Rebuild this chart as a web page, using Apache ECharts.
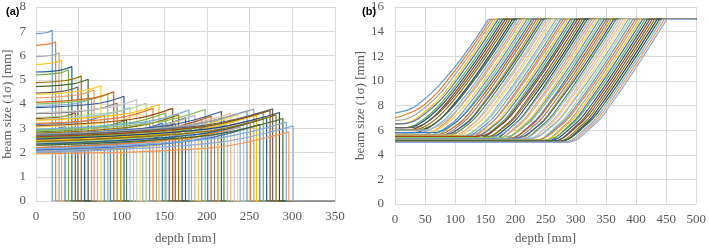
<!DOCTYPE html>
<html><head><meta charset="utf-8">
<script src="https://cdn.jsdelivr.net/npm/echarts@6/dist/echarts.min.js"></script>
<style>html,body{margin:0;padding:0;background:#fff}#c{width:709px;height:250px}</style>
</head><body><div id="c"></div>
<script>
// ---------- Panel (a) data: per line range [mm], size at 0, at 0.7*range, at range ----------
const aRange=[19,23,27,30,34,38,42,46,49,53,57,61,65,68,72,76,80,84,87,91,95,99,103,106,110,114,118,122,125,129,133,137,141,144,148,152,156,160,163,167,171,175,179,182,186,190,194,198,201,205,209,213,217,220,224,228,232,236,239,243,247,251,255,258,262,266,270,274,277,281,285,289,293,296,301];
const aStart=[6.9,6.42,5.95,5.63,2.9,5.2,5.32,3.4,4.45,4.88,2.3,4.72,3.9,4.25,2.65,4.4,3.15,4.0,2.15,4.07,3.6,2.5,3.85,2.85,3.35,2.05,3.64,3.05,2.4,3.45,2.7,3.2,2.2,3.33,2.55,2.95,2.1,3.1,2.45,2.8,2.0,2.65,2.95,2.3,2.7,2.05,2.5,2.9,2.2,2.6,2.35,2.0,2.75,2.45,2.15,2.65,2.3,2.55,2.05,2.4,2.7,2.2,2.75,2.5,2.1,2.6,2.35,2.65,2.7,2.45,2.55,2.3,2.15,1.95,2.0];
const aMid=[6.95,6.48,6.01,5.7,2.97,5.27,5.4,3.49,4.54,4.98,2.4,4.83,4.02,4.37,2.78,4.53,3.29,4.15,2.3,4.23,3.76,2.67,4.02,3.03,3.54,2.24,3.84,3.25,2.61,3.66,2.92,3.43,2.43,3.57,2.79,3.2,2.36,3.37,2.72,3.08,2.28,2.94,3.25,2.6,3.01,2.36,2.82,3.23,2.53,2.93,2.69,2.34,3.1,2.8,2.51,3.01,2.66,2.92,2.42,2.77,3.08,2.58,3.13,2.89,2.49,3.0,2.75,3.05,3.11,2.86,2.96,2.71,2.56,2.2,2.41];
const aEnd=[7.04,6.57,6.11,5.81,3.09,5.4,5.54,3.64,4.7,5.15,2.58,5.02,4.22,4.58,3.0,4.76,3.53,4.4,2.56,4.5,4.04,2.96,4.32,3.34,3.85,2.57,4.18,3.6,2.97,4.03,3.3,3.82,2.83,3.98,3.21,3.63,2.8,3.82,3.18,3.55,2.76,3.43,3.75,3.11,3.53,2.89,3.36,3.78,3.09,3.5,3.27,2.93,3.69,3.4,3.11,3.62,3.28,3.54,3.05,3.41,3.72,3.23,3.79,3.55,3.16,3.67,3.43,3.74,3.8,3.55,3.65,3.4,3.25,2.85,3.1];
const aMidFrac=0.7;
const aX={min:0,max:350,step:50};
const aY={min:0,max:8,step:1};

// ---------- Panel (b) data: start size, depth where rise begins, depths where size reaches 6.5 / 8 / 11 / 15 ----------
const bStart=[7.4,7.0,6.8,6.5,6.5,6.2,6.2,6.0,6.2,6.0,5.8,6.0,5.8,5.6,6.0,5.8,5.6,5.5,5.8,5.6,5.5,5.4,5.6,5.5,5.3,5.5,5.4,5.6,5.3,5.5,5.4,5.2,5.5,5.3,5.4,5.2,5.3,5.5,5.2,5.4,5.3,5.1,5.4,5.2,5.3,5.1,5.2,5.4,5.1,5.3,5.2,5.0,5.3,5.1,5.2,5.0,5.2,5.1,5.3,5.0,5.1,5.2,5.0,5.1,5.0,5.2,5.1,5.0,5.1,5.0,5.0,5.1,5.0,5.0,5.0];
const bKnee=[0,1,4,6,10,12,16,19,24,27,30,35,38,41,47,50,53,57,62,65,69,72,77,81,84,89,92,97,100,105,108,112,117,120,124,128,132,137,140,144,148,151,156,160,164,167,172,176,179,184,188,191,196,199,204,207,212,215,220,223,227,232,235,239,243,248,251,255,259,263,267,271,275,279,283];
const bAt65=[null,null,null,null,null,36,40,49,48,57,65,65,73,81,77,85,93,98,97,105,110,116,117,122,129,130,136,137,145,146,152,158,158,165,168,174,177,178,186,188,193,199,200,206,209,215,218,220,227,229,234,240,241,247,250,256,258,263,265,272,275,278,284,287,292,294,299,304,307,312,316,319,324,328,332];
const bAt8=[36,47,54,62,66,73,77,82,85,90,96,98,104,109,110,116,121,126,128,133,138,143,145,150,155,158,163,165,171,174,179,184,186,191,195,200,203,206,212,215,219,225,227,232,235,241,244,247,253,255,260,265,267,273,276,281,284,289,291,297,301,304,309,313,317,320,325,329,333,337,341,345,349,353,357];
const bAt11=[97,102,107,112,116,121,125,129,133,137,142,145,150,154,157,162,166,170,174,178,182,187,190,194,199,202,207,210,215,218,223,227,230,235,239,243,247,250,255,259,263,267,271,275,279,283,287,291,295,299,303,307,311,315,319,323,327,331,335,339,343,347,351,355,359,363,367,371,375,379,383,387,391,395,399];
const bAt15=[155,159,163,167,171,175,179,183,187,191,195,199,203,207,211,215,219,223,227,231,235,239,243,247,251,255,259,263,267,271,275,279,283,287,291,295,299,303,307,311,315,319,323,327,331,335,339,343,347,351,355,359,363,367,371,375,379,383,387,391,395,399,403,407,411,415,419,423,427,431,435,439,443,447,451];
const bLevels=[6.5,8,11,15];
const bX={min:0,max:500,step:50};
const bY={min:0,max:16,step:2};

const palette=['#5B9BD5','#ED7D31','#A5A5A5','#FFC000','#4472C4','#70AD47','#255E91','#9E480E','#636363','#997300','#264478','#43682B','#7CAFDD','#F1975A','#B7B7B7','#FFCD33','#698ED0','#8CC168','#327DC2','#D26012','#848484','#CC9A00','#335AA1','#5A8A39','#9DC3E6','#F4B183','#C9C9C9','#FFD966','#8FAADC','#A9D18E'];
const lastColor='#8FAADC';

const serif='Liberation Serif';
const tickStyle={fontFamily:serif,fontSize:13,color:'#595959'};
const split={show:true,lineStyle:{color:'#D9D9D9',width:1}};
const lw=1.2;

const series=[];
const base={type:'line',showSymbol:false,silent:true,animation:false};
aRange.forEach((R,i)=>{
  const col=i===aRange.length-1?lastColor:palette[i%palette.length];
  series.push(Object.assign({},base,{xAxisIndex:0,yAxisIndex:0,smooth:0.4,
    lineStyle:{width:lw,color:col},
    data:[[0,aStart[i]],[R*aMidFrac,aMid[i]],[R,aEnd[i]],[R,0],[aX.max,0]]}));
});
bStart.forEach((s,i)=>{
  const col=i===bStart.length-1?lastColor:palette[i%palette.length];
  const pts=[[0,s]];
  if(bKnee[i]>0) pts.push([bKnee[i],s]);
  if(bAt65[i]!==null) pts.push([bAt65[i],bLevels[0]]);
  pts.push([bAt8[i],bLevels[1]],[bAt11[i],bLevels[2]],[bAt15[i],bLevels[3]]);
  series.push(Object.assign({},base,{xAxisIndex:1,yAxisIndex:1,smooth:0.4,
    lineStyle:{width:lw,color:col},data:pts}));
  series.push(Object.assign({},base,{xAxisIndex:1,yAxisIndex:1,
    lineStyle:{width:lw,color:col},data:[[bAt15[i],bLevels[3]],[bX.max,bLevels[3]]]}));
});

function xAxis(gi,r,gap){return {type:'value',gridIndex:gi,min:r.min,max:r.max,interval:r.step,
  name:'depth [mm]',nameLocation:'middle',nameGap:gap,nameTextStyle:tickStyle,
  axisLine:{show:false},axisTick:{show:false},axisLabel:Object.assign({margin:9},tickStyle),splitLine:split};}
function yAxis(gi,r,gap,m){return {type:'value',gridIndex:gi,min:r.min,max:r.max,interval:r.step,
  name:'beam size (1σ) [mm]',nameLocation:'middle',nameGap:gap,nameTextStyle:tickStyle,
  axisLine:{show:false},axisTick:{show:false},axisLabel:Object.assign({margin:m},tickStyle),splitLine:split};}

const chart=echarts.init(document.getElementById('c'),null,{renderer:'canvas'});
chart.setOption({
  animation:false,
  title:[
    {text:'(a)',left:1,top:1,textStyle:{fontFamily:'Liberation Sans',fontWeight:'bold',fontSize:11,color:'#000'}},
    {text:'(b)',left:357,top:1,textStyle:{fontFamily:'Liberation Sans',fontWeight:'bold',fontSize:11,color:'#000'}}
  ],
  grid:[{left:35,top:7,width:300,height:201},{left:395,top:7,width:303,height:204}],
  xAxis:[xAxis(0,aX,31),xAxis(1,bX,28)],
  yAxis:[yAxis(0,aY,22,10),yAxis(1,bY,27,11)],
  series:series
});
</script></body></html>
